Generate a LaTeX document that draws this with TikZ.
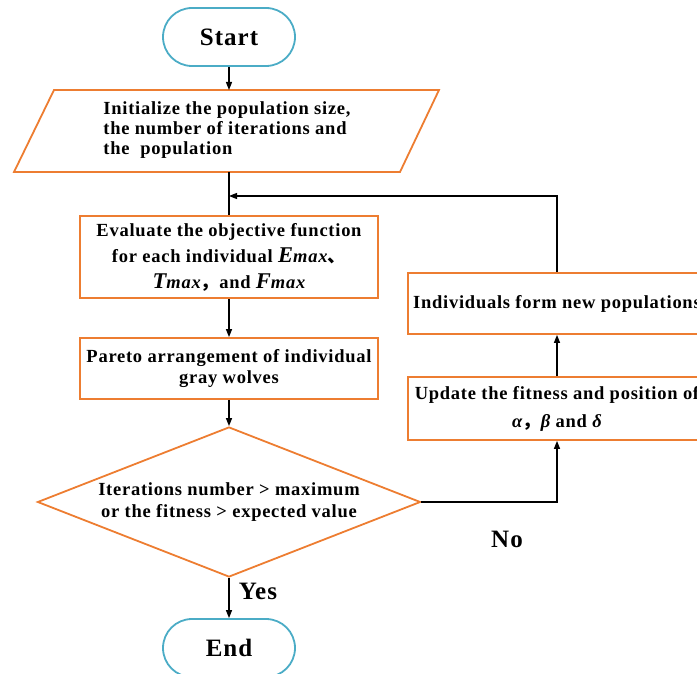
\documentclass[tikz,border=0pt]{standalone}
\usepackage{fontspec}
\setmainfont{Liberation Serif}[LetterSpace=4]
\newfontfamily\cjk{Noto Sans CJK SC}
\usetikzlibrary{shapes.geometric,arrows.meta}
\definecolor{ora}{HTML}{ED7D31}
\definecolor{blu}{HTML}{4BACC6}
\newcommand{\bigv}[1]{{\fontsize{22.5}{26}\selectfont\itshape #1}{\itshape max}}
\begin{document}
\begin{tikzpicture}[x=1pt,y=-1pt,
  term/.style={draw=blu,line width=1.8pt,rounded corners=29pt,minimum width=132pt,minimum height=58pt,font=\fontsize{25}{28}\selectfont\bfseries},
  proc/.style={draw=ora,line width=1.8pt,font=\fontsize{18.5}{26}\selectfont\bfseries,align=center,inner sep=0pt,minimum width=298pt},
  txt/.style={font=\fontsize{18.5}{20}\selectfont\bfseries},
  lbl/.style={font=\fontsize{25}{28}\selectfont\bfseries},
  arr/.style={line width=1.3pt,-{Triangle[length=8pt,width=6pt]}},
  ln/.style={line width=1.3pt}]
\useasboundingbox (0,0) rectangle (697,674);
\clip (0,0) rectangle (697,674);
% terminals
\node[term] (start) at (229,37) {Start};
\node[term] (endn) at (229,648) {End};
% parallelogram
\draw[draw=ora,line width=1.8pt] (54,90) -- (439,90) -- (400,172) -- (14,172) -- cycle;
\coordinate (initTop) at (229,90);
\coordinate (initBot) at (229,172);
\node[txt,align=left] (init) at (227,130) {Initialize the population size,\\the number of iterations and\\the\ \ population};
% boxes
\node[proc,minimum height=82pt] (eval) at (229,257) {Evaluate the objective function\\for each individual \bigv{E}{\cjk 、}\\\bigv{T}{\cjk ，}and \bigv{F}};
\node[proc,minimum height=61pt,font=\fontsize{18.5}{21}\selectfont\bfseries] (pareto) at (229,368.5) {Pareto arrangement of individual\\gray wolves};
\node[draw=ora,line width=1.8pt,diamond,shape aspect=2.55,minimum width=383pt,minimum height=150pt,inner sep=0pt,font=\fontsize{18.5}{22}\selectfont\bfseries,align=center] (dec) at (229,502) {Iterations number > maximum\\or the fitness > expected value};
\node[proc,minimum height=63pt,font=\fontsize{18.5}{28}\selectfont\bfseries] (update) at (557,408.5) {Update the fitness and position of\\{\itshape α}{\cjk ，}{\itshape β} and {\itshape δ}};
\node[proc,minimum height=61pt] (indiv) at (557,303.5) {Individuals form new populations};
\coordinate (merge) at (229,196);
% connectors
\draw[arr] (start) -- (initTop);
\draw[ln] (initBot) -- (eval.north);
\draw[arr] (indiv.north) |- (merge);
\draw[arr] (eval) -- (pareto);
\draw[arr] (pareto) -- (dec);
\draw[arr] (dec) -- (endn);
\draw[arr] (dec.east) -| (update.south);
\draw[arr] (update) -- (indiv);
\node[lbl] (yes) at (258,591) {Yes};
\node[lbl] (no) at (507,539) {No};
\end{tikzpicture}
\end{document}
